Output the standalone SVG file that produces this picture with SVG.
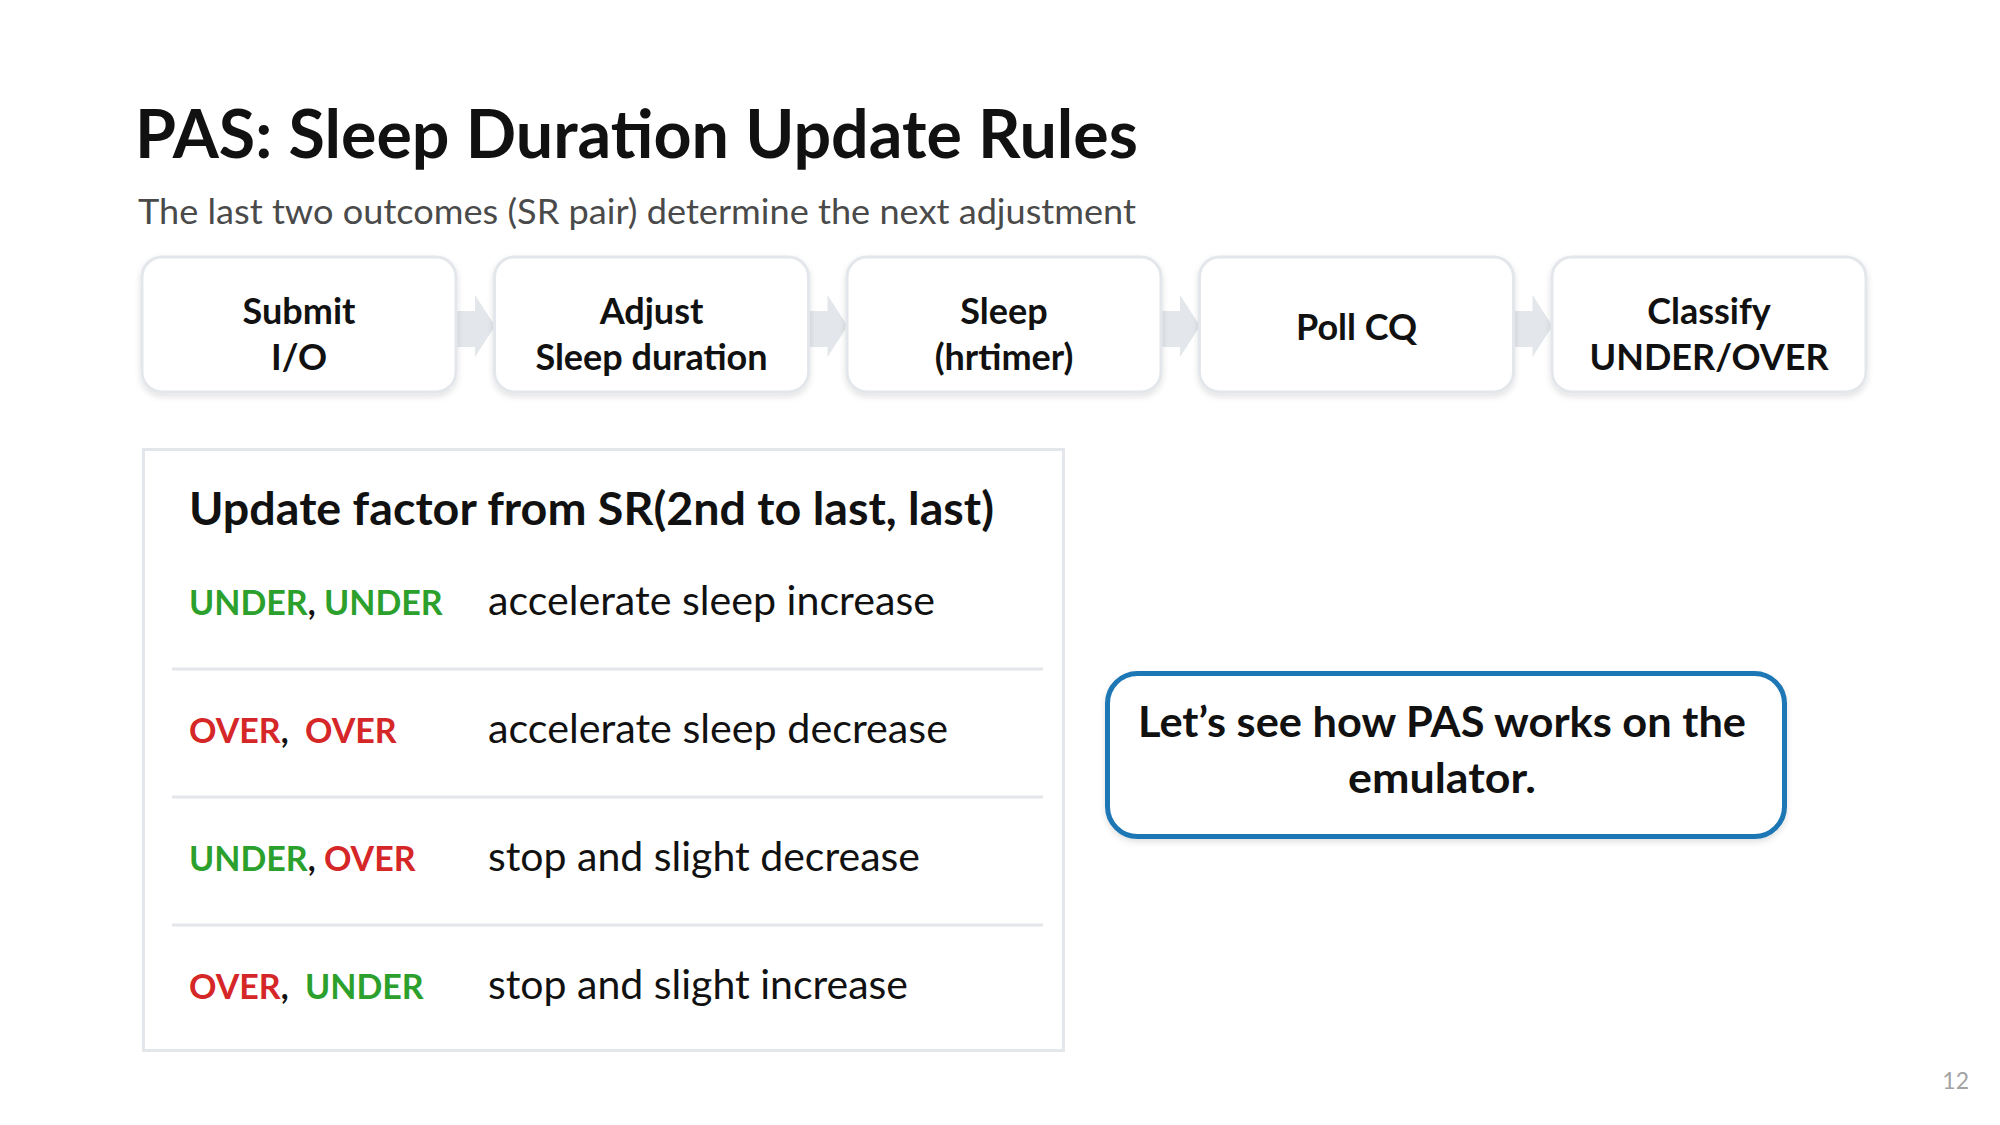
<svg xmlns="http://www.w3.org/2000/svg" width="2000" height="1125" viewBox="0 0 2000 1125">
<defs>
<style>
text{font-family:Lato,"Open Sans","Liberation Sans",sans-serif}
.title{font-size:66px;font-weight:700;fill:#111111}
.sub{font-size:35px;fill:#4a4a4a}
.box{fill:#ffffff;stroke:#e3e6ea;stroke-width:3}
.bt{font-size:36px;font-weight:700;fill:#111111;text-anchor:middle}
.arrow{fill:#e3e6ea}
.panel{fill:#ffffff;stroke:#e3e6ea;stroke-width:3}
.sep{stroke:#e3e6ea;stroke-width:3}
.head{font-size:46px;font-weight:700;fill:#111111}
.lab{font-size:34px;font-weight:700;fill:#111111}
.g{fill:#2ca02c}
.r{fill:#d62728}
.desc{font-size:40px;fill:#111111}
.call{fill:#ffffff;stroke:#1f77b4;stroke-width:5}
.ct{font-size:42px;font-weight:700;fill:#111111;text-anchor:middle}
.pn{font-size:23px;fill:#a3a3a3;text-anchor:end}
</style>
<filter id="sh" x="-10%" y="-10%" width="120%" height="130%">
<feDropShadow dx="0" dy="3" stdDeviation="3" flood-color="#000000" flood-opacity="0.12"/>
</filter>
</defs>
<rect width="2000" height="1125" fill="#ffffff"/>
<text class="title" x="135" y="158" textLength="1003" lengthAdjust="spacingAndGlyphs">PAS: Sleep Duration Update Rules</text>
<text class="sub" x="138" y="224" textLength="998" lengthAdjust="spacingAndGlyphs">The last two outcomes (SR pair) determine the next adjustment</text>

<g id="connectors">
<polygon class="arrow" points="450,311 475,311 475,295 495,326 475,357 475,347 450,347"/>
<polygon class="arrow" points="802.5,311 827.5,311 827.5,295 847.5,326 827.5,357 827.5,347 802.5,347"/>
<polygon class="arrow" points="1155,311 1180,311 1180,295 1200,326 1180,357 1180,347 1155,347"/>
<polygon class="arrow" points="1507.5,311 1532.5,311 1532.5,295 1552.5,326 1532.5,357 1532.5,347 1507.5,347"/>
</g>

<g id="step-submit">
<rect class="box" x="142" y="257" width="314" height="135" rx="20" filter="url(#sh)"/>
<text class="bt" x="299" y="324">Submit</text>
<text class="bt" x="299" y="370">I/O</text>
</g>
<g id="step-adjust">
<rect class="box" x="494.5" y="257" width="314" height="135" rx="20" filter="url(#sh)"/>
<text class="bt" x="651.5" y="324">Adjust</text>
<text class="bt" x="651.5" y="370">Sleep duration</text>
</g>
<g id="step-sleep">
<rect class="box" x="847" y="257" width="314" height="135" rx="20" filter="url(#sh)"/>
<text class="bt" x="1004" y="324">Sleep</text>
<text class="bt" x="1004" y="370">(hrtimer)</text>
</g>
<g id="step-poll">
<rect class="box" x="1199.5" y="257" width="314" height="135" rx="20" filter="url(#sh)"/>
<text class="bt" x="1356.5" y="340">Poll CQ</text>
</g>
<g id="step-classify">
<rect class="box" x="1552" y="257" width="314" height="135" rx="20" filter="url(#sh)"/>
<text class="bt" x="1709" y="324">Classify</text>
<text class="bt" x="1709" y="370">UNDER/OVER</text>
</g>

<g id="rules-table">
<rect class="panel" x="143.5" y="449.5" width="920" height="601"/>
<text class="head" x="189" y="525" textLength="805" lengthAdjust="spacingAndGlyphs">Update factor from SR(2nd to last, last)</text>
<line class="sep" x1="172" y1="669" x2="1043" y2="669"/>
<line class="sep" x1="172" y1="797" x2="1043" y2="797"/>
<line class="sep" x1="172" y1="925" x2="1043" y2="925"/>

<text class="lab" x="189" y="615"><tspan class="g">UNDER</tspan>, <tspan class="g">UNDER</tspan></text>
<text class="desc" x="488" y="615" textLength="447" lengthAdjust="spacingAndGlyphs">accelerate sleep increase</text>

<text class="lab" x="189" y="743"><tspan class="r">OVER</tspan>,<tspan class="r" x="305">OVER</tspan></text>
<text class="desc" x="488" y="743" textLength="460" lengthAdjust="spacingAndGlyphs">accelerate sleep decrease</text>

<text class="lab" x="189" y="871"><tspan class="g">UNDER</tspan>, <tspan class="r">OVER</tspan></text>
<text class="desc" x="488" y="871" textLength="432" lengthAdjust="spacingAndGlyphs">stop and slight decrease</text>

<text class="lab" x="189" y="999"><tspan class="r">OVER</tspan>,<tspan class="g" x="305">UNDER</tspan></text>
<text class="desc" x="488" y="999" textLength="420" lengthAdjust="spacingAndGlyphs">stop and slight increase</text>
</g>

<g id="callout">
<rect class="call" x="1107.5" y="673.5" width="677" height="163" rx="30" filter="url(#sh)"/>
<text class="ct" x="1442" y="737" textLength="608" lengthAdjust="spacingAndGlyphs">Let’s see how PAS works on the</text>
<text class="ct" x="1442" y="793" textLength="188" lengthAdjust="spacingAndGlyphs">emulator.</text>
</g>

<text class="pn" x="1969" y="1089">12</text>
</svg>
